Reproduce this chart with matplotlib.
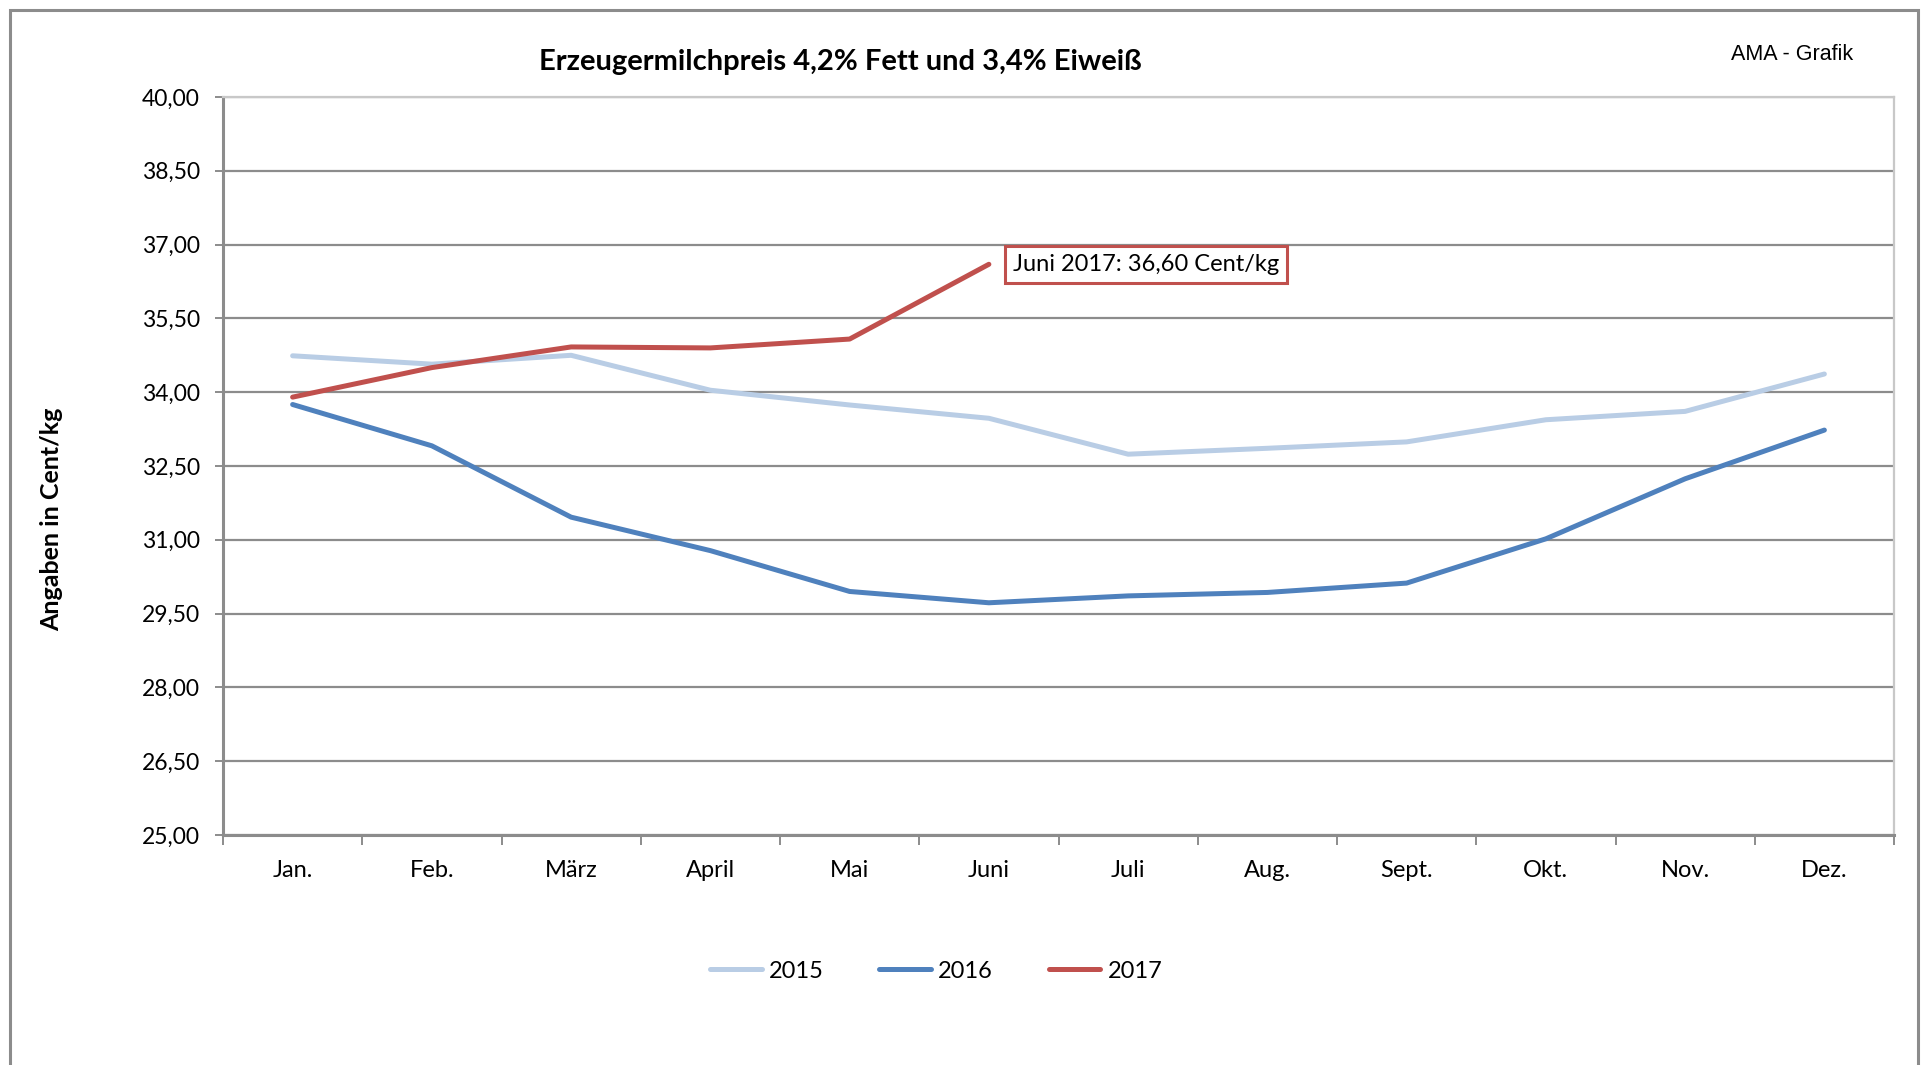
import matplotlib
matplotlib.use("Agg")
import matplotlib.pyplot as plt
from matplotlib.patches import Rectangle
from matplotlib.ticker import FixedLocator, NullFormatter

# === Daten ===
monate = ["Jan.", "Feb.", "März", "April", "Mai", "Juni",
          "Juli", "Aug.", "Sept.", "Okt.", "Nov.", "Dez."]
preis_2015 = [34.74, 34.57, 34.75, 34.04, 33.74, 33.47,
              32.74, 32.86, 32.99, 33.44, 33.61, 34.37]
preis_2016 = [33.75, 32.91, 31.46, 30.78, 29.95, 29.72,
              29.86, 29.93, 30.12, 31.02, 32.24, 33.23]
preis_2017 = [33.90, 34.50, 34.92, 34.90, 35.08, 36.60]
y_ticks = [25.0, 26.5, 28.0, 29.5, 31.0, 32.5, 34.0, 35.5, 37.0, 38.5, 40.0]

farben = {"2015": "#B9CDE5", "2016": "#4F81BD", "2017": "#C0504D"}
calibri = ["Lato", "DejaVu Sans"]

W, H = 1932, 1065
fig = plt.figure(figsize=(W / 100, H / 100), dpi=100)
ax = fig.add_axes([223 / W, 1 - 835 / H, (1894 - 223) / W, (835 - 97) / H])

# Rahmen um die ganze Grafik
fig.patches.append(Rectangle((10 / W, -0.02), (1918 - 10) / W, 1 - 10 / H + 0.02,
                             transform=fig.transFigure, fill=False,
                             ec="#8c8c8c", lw=2.2, zorder=0))

x = list(range(len(monate)))
ax.plot(x, preis_2015, color=farben["2015"], lw=3.6, label="2015", solid_capstyle="round", zorder=3)
ax.plot(x, preis_2016, color=farben["2016"], lw=3.6, label="2016", solid_capstyle="round", zorder=3)
ax.plot(x[:len(preis_2017)], preis_2017, color=farben["2017"], lw=3.6, label="2017",
        solid_capstyle="round", zorder=4)

# Achsen
ax.set_xlim(-0.5, 11.5)
ax.set_ylim(25, 40)
ax.set_yticks(y_ticks)
ax.set_yticklabels([f"{v:.2f}".replace(".", ",") for v in y_ticks], fontsize=16.5, family=calibri)
ax.yaxis.grid(True, color="#8c8c8c", lw=1.6)
ax.set_axisbelow(True)

ax.xaxis.set_major_locator(FixedLocator([i - 0.5 for i in range(13)]))
ax.xaxis.set_major_formatter(NullFormatter())
ax.xaxis.set_minor_locator(FixedLocator(x))
ax.set_xticklabels(monate, minor=True, fontsize=17, family=calibri)
ax.tick_params(axis="x", which="major", direction="out", length=7, width=1.4, color="#8c8c8c")
ax.tick_params(axis="x", which="minor", length=0, pad=18)
ax.tick_params(axis="y", direction="out", length=5.8, width=1.4, color="#8c8c8c", pad=11)

for side in ["left", "bottom"]:
    ax.spines[side].set_color("#8c8c8c")
    ax.spines[side].set_linewidth(2.2)
for side in ["top", "right"]:
    ax.spines[side].set_color("#c8c8c8")
    ax.spines[side].set_linewidth(1.6)

# Achsentitel, Titel und Quelle
fig.text(52 / W, 1 - 519 / H, "Angaben in Cent/kg", rotation=90, fontsize=18,
         fontweight="bold", family=calibri, ha="center", va="center")
fig.text(840 / W, 1 - 62 / H, "Erzeugermilchpreis 4,2% Fett und 3,4% Eiweiß",
         fontsize=21, fontweight="bold", family=calibri, ha="center", va="center")
fig.text(1792 / W, 1 - 54 / H, "AMA - Grafik", fontsize=15.5,
         family="Liberation Sans", ha="center", va="center")

# Beschriftung Juni 2017
ax.annotate("Juni 2017: 36,60 Cent/kg", xy=(5, preis_2017[5]), xytext=(24, 0),
            textcoords="offset pixels", ha="left", va="center", fontsize=17, family=calibri,
            bbox=dict(boxstyle="square,pad=0.35", fc="white", ec=farben["2017"], lw=2.2))

# Legende
leg = fig.legend(loc="center", bbox_to_anchor=(936 / W, 1 - 971 / H), ncol=3,
                 frameon=False, prop={"family": calibri, "size": 17},
                 handlelength=2.2, handletextpad=0.3, columnspacing=2.35)

fig.savefig("out.png", dpi=100)
